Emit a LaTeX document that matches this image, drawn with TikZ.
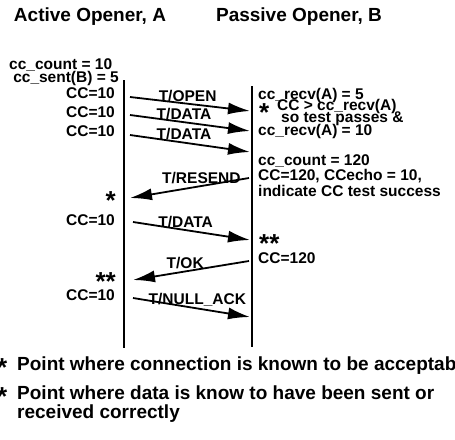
\documentclass[tikz,border=0pt]{standalone}
\usepackage{fontspec}
\setmainfont{Liberation Sans}
\usetikzlibrary{arrows.meta,positioning}
\tikzset{
  basetext/.style={font=\fontsize{15.5}{15.5}\selectfont\bfseries,inner sep=0pt},
  title/.style={basetext,font=\fontsize{19}{20}\selectfont\bfseries},
  lefttext/.style={basetext,anchor=mid east},
  righttext/.style={basetext,anchor=mid west},
  startext/.style={font=\fontsize{26}{26}\selectfont\bfseries,inner sep=0pt,anchor=base east},
  msglabel/.style={font=\fontsize{15.5}{15.5}\selectfont\bfseries,inner sep=0pt,anchor=south,yshift=1.5pt},
  lifeline/.style={line width=1.8pt,draw=black},
  msg/.style={-{Latex[length=22pt,width=12pt]},line width=1.8pt,draw=black},
  legend/.style={font=\fontsize{19}{19}\selectfont\bfseries,inner sep=0pt,anchor=mid west,align=left}
}
\begin{document}
\begin{tikzpicture}[x=1pt,y=-1pt]
  \useasboundingbox (0,0) rectangle (455,439);

  % column titles
  \node[title] (ta) at (90,17) {Active Opener, A};
  \node[title] (tb) at (299,17) {Passive Opener, B};

  % lifelines
  \coordinate (atop) at (124,80);
  \coordinate (abot) at (124,348);
  \coordinate (btop) at (252,86);
  \coordinate (bbot) at (252,347);
  \draw[lifeline] (atop) -- (abot);
  \draw[lifeline] (btop) -- (bbot);

  % state of A
  \node[basetext,anchor=mid west] (acount) at (9,67) {cc\_count = 10};
  \node[lefttext] (asent) at (119,80) {cc\_sent(B) = 5};
  \node[lefttext] (acc1) at (115,96) {CC=10};
  \node[lefttext] (acc2) at (115,115) {CC=10};
  \node[lefttext] (acc3) at (115,134) {CC=10};
  \node[startext] (astar) at (116,209) {*};
  \node[lefttext] (acc4) at (115,223) {CC=10};
  \node[startext] (astar2) at (116,290) {**};
  \node[lefttext] (acc5) at (115,298) {CC=10};

  % state of B
  \node[righttext] (brecv) at (258,97) {cc\_recv(A) = 5};
  \node[startext,anchor=base west] (bstar) at (259,121) {*};
  \node[righttext] (btest) at (277,108) {CC > cc\_recv(A)};
  \node[righttext] (bpass) at (281,120) {so test passes \&};
  \node[righttext] (brecv2) at (258,133) {cc\_recv(A) = 10};
  \node[righttext] (bcount) at (258,163) {cc\_count = 120};
  \node[righttext] (becho) at (258,178) {CC=120, CCecho = 10,};
  \node[righttext] (bok) at (258,194) {indicate CC test success};
  \node[startext,anchor=base west] (bstar2) at (259,252) {**};
  \node[righttext] (bcc) at (258,261) {CC=120};

  % message end points
  \coordinate (o1) at (130,97);   \coordinate (o2) at (250,111);
  \coordinate (d1) at (130,115);  \coordinate (d2) at (250,131);
  \coordinate (e1) at (130,135);  \coordinate (e2) at (250,152);
  \coordinate (r1) at (249,178);  \coordinate (r2) at (130,198);
  \coordinate (f1) at (133,222);  \coordinate (f2) at (250,240);
  \coordinate (k1) at (249,261);  \coordinate (k2) at (133,280);
  \coordinate (n1) at (133,298);  \coordinate (n2) at (250,317);

  % messages
  \draw[msg] (o1) -- node[msglabel,pos=0.48] (lopen) {T/OPEN} (o2);
  \draw[msg] (d1) -- node[msglabel,pos=0.45] (ldata1) {T/DATA} (d2);
  \draw[msg] (e1) -- node[msglabel,pos=0.45] (ldata2) {T/DATA} (e2);
  \draw[msg] (r1) -- node[msglabel,pos=0.4] (lresend) {T/RESEND} (r2);
  \draw[msg] (f1) -- node[msglabel,pos=0.45] (ldata3) {T/DATA} (f2);
  \draw[msg] (k1) -- node[msglabel,pos=0.55] (lok) {T/OK} (k2);
  \draw[msg] (n1) -- node[msglabel,pos=0.55] (lnull) {T/NULL\_ACK} (n2);

  % legend
  \node[startext,anchor=base west] (lstar1) at (-3,376) {*};
  \node[legend] (leg1) at (17,368) {Point where connection is known to be acceptab};
  \node[startext,anchor=base west] (lstar2) at (-3,405) {*};
  \node[legend] (leg2) at (17,397) {Point where data is know to have been sent or};
  \node[legend] (leg3) at (17,416) {received correctly};
\end{tikzpicture}
\end{document}
